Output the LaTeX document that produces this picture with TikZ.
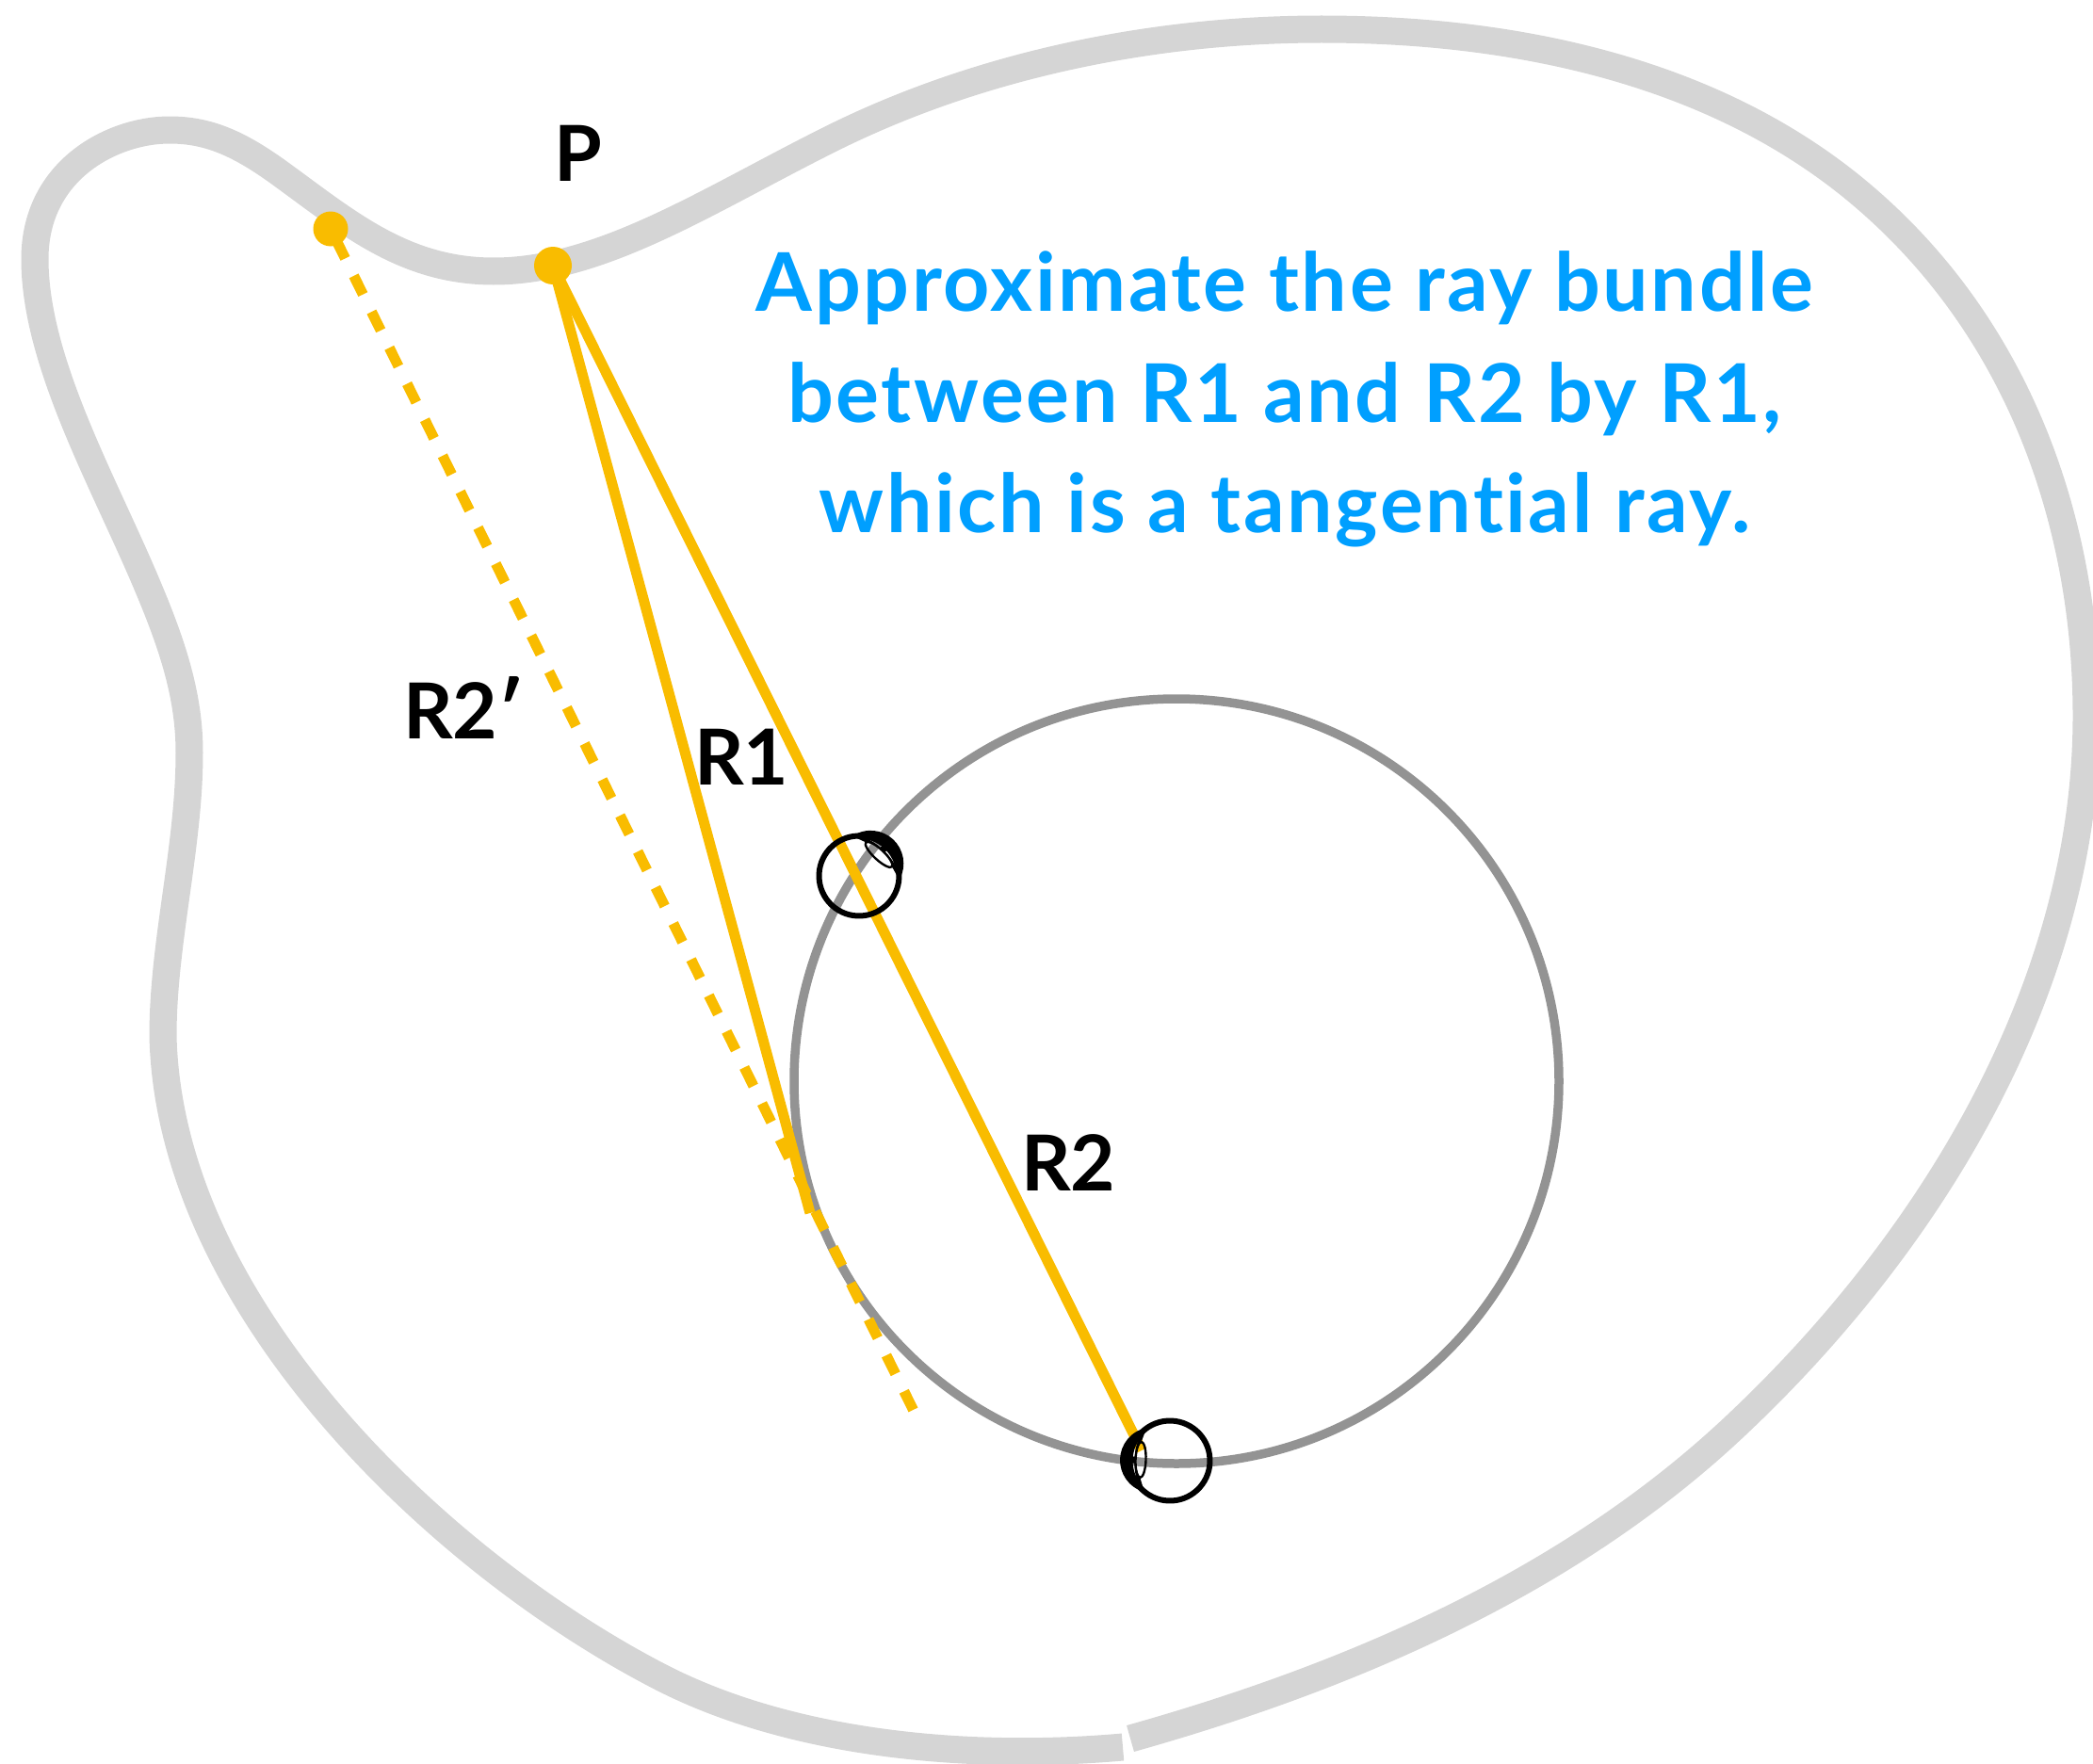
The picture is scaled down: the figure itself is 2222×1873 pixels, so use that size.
\documentclass[tikz,border=0pt]{standalone}
\usepackage{fontspec}
\setmainfont{Lato}
\newfontface\blueface[LetterSpace=3,Ligatures=NoCommon]{Lato Bold}
\newfontface\labface{Lato Bold}
\definecolor{blobgray}{HTML}{D5D5D5}
\definecolor{circgray}{HTML}{939393}
\definecolor{rayyellow}{HTML}{F9BC00}
\definecolor{noteblue}{HTML}{009FFF}
\tikzset{
  blob/.style={draw=blobgray,line width=29pt,line cap=butt,line join=round},
  bigcircle/.style={draw=circgray,line width=9.5pt},
  ray/.style={draw=rayyellow,line width=11pt,line cap=butt},
  dashray/.style={draw=rayyellow,line width=11pt,line cap=butt,dash pattern=on 22pt off 20.6pt,dash phase=29.6pt},
  raydot/.style={circle,fill=rayyellow,inner sep=0pt},
  lab/.style={font=\labface\fontsize{82}{82}\selectfont,text=black,anchor=base west,inner sep=0pt},
  note/.style={font=\blueface\fontsize{86}{117.6}\selectfont,text=noteblue,align=center,inner sep=0pt},
  eyeball/.pic={
    \draw[black,line width=6pt] (0,0) circle[radius=42.5];
    \fill[black,even odd rule] (26,-34) .. controls (43,-30) and (53,-15) .. (53,0)
       .. controls (53,15) and (43,30) .. (26,34)
       -- (31,19) .. controls (34.5,14) and (36.5,6) .. (36.5,0) .. controls (36.5,-6) and (34.5,-14) .. (31,-19) -- cycle
       (40,-4) .. controls (39.5,-11) and (38,-18) .. (33.5,-25) .. controls (36,-18) and (37,-11) .. (37.5,-4) -- cycle
       (40,3) .. controls (39.5,10) and (38,17) .. (33.5,24) .. controls (36,17) and (37,10) .. (37.5,3) -- cycle;
    \draw[black,line width=2.4pt] (31,0) ellipse[x radius=5.5,y radius=19];
  }
}
\begin{document}
\begin{tikzpicture}[x=1pt,y=-1pt]
\useasboundingbox (0,0) rectangle (2222,1873);
\draw[blob] (1200,1846) .. controls (1431,1781) and (1660,1683) .. (1836,1520)
  .. controls (2048,1323) and (2215,1050) .. (2215,760)
  .. controls (2215,550) and (2140,340) .. (1967,199)
  .. controls (1812,73) and (1603,31) .. (1403,31)
  .. controls (1219,31) and (1034,71) .. (879,149)
  .. controls (751,213) and (638,288) .. (524,288)
  .. controls (430,288) and (370,237) .. (300,186)
  .. controls (255,153) and (222,138) .. (180,138)
  .. controls (120,138) and (37,180) .. (37,275)
  .. controls (37,385) and (111,513) .. (157,623)
  .. controls (184,687) and (201,740) .. (201,799)
  .. controls (201,900) and (173,1000) .. (173,1100)
  .. controls (180,1390) and (470,1661) .. (700,1780)
  .. controls (835,1850) and (1020,1870) .. (1192,1855);
\node[bigcircle,circle,minimum size=812pt,inner sep=0pt] (bigc) at (1249,1148) {};
\node[raydot,minimum size=37pt] (Q) at (351,243) {};
\node[raydot,minimum size=40pt] (Pt) at (587,282) {};
\coordinate (r1end) at (860,1288);
\coordinate (r2end) at (1212,1540);
\coordinate (r3end) at (970,1498);
\draw[ray] (Pt.center) -- (r1end);
\draw[ray] (Pt.center) -- (r2end);
\draw[dashray] (Q.center) -- (r3end);
\pic[rotate=47] at (912,930) {eyeball};
\pic[rotate=178] at (1242,1551) {eyeball};
\node[lab] (lP) at (588,192) {P};
\node[lab] (lR2p) at (428,784) {R2′};
\node[lab] (lR1) at (737,833) {R1};
\node[lab] (lR2) at (1084,1264) {R2};
\node[note] (txt) at (1364,424) {Approximate the ray bundle\\between R1 and R2 by R1,\\which is a tangential ray.};
\end{tikzpicture}
\end{document}
